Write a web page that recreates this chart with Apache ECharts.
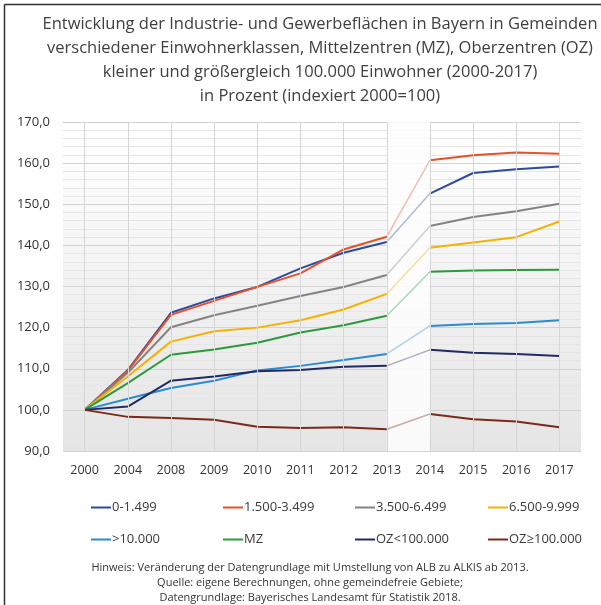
<!DOCTYPE html>
<html>
<head>
<meta charset="utf-8">
<script src="https://cdn.jsdelivr.net/npm/echarts@6/dist/echarts.min.js"></script>
<style>
html,body{margin:0;padding:0;background:#fff;}
#c{width:601px;height:605px;}
</style>
</head>
<body>
<div id="c"></div>
<script>
var years = ['2000','2004','2008','2009','2010','2011','2012','2013','2014','2015','2016','2017'];
var names = ['0-1.499','1.500-3.499','3.500-6.499','6.500-9.999','>10.000','MZ','OZ<100.000','OZ\u2265100.000'];
var colors = ['#2b4c9f','#e4512a','#838383','#f4b100','#2a8bd3','#2b9a3c','#202b62','#7b2a1a'];
var s0_1499   = [100, 109.7, 123.6, 127.1, 129.9, 134.4, 138.2, 140.8, 152.6, 157.6, 158.5, 159.2];
var s1500_3499 = [100, 109.5, 123.1, 126.5, 129.9, 133.2, 139.0, 142.1, 160.7, 161.9, 162.6, 162.3];
var s3500_6499 = [100, 109.0, 120.1, 123.0, 125.3, 127.7, 129.9, 132.8, 144.7, 146.9, 148.3, 150.1];
var s6500_9999 = [100, 108.1, 116.6, 119.1, 120.0, 121.8, 124.4, 128.2, 139.4, 140.7, 142.0, 145.8];
var s10000    = [100, 102.7, 105.3, 107.1, 109.6, 110.7, 112.1, 113.6, 120.4, 120.9, 121.1, 121.8];
var sMZ       = [100, 106.5, 113.4, 114.7, 116.3, 118.8, 120.6, 122.9, 133.6, 133.9, 134.0, 134.1];
var sOZsmall  = [100, 100.8, 107.1, 108.1, 109.4, 109.7, 110.5, 110.7, 114.6, 113.9, 113.6, 113.1];
var sOZlarge  = [100, 98.3, 98.0, 97.6, 95.9, 95.6, 95.8, 95.3, 99.0, 97.7, 97.2, 95.8];
var yTicks = [90, 100, 110, 120, 130, 140, 150, 160, 170];
var titleLines = [
  'Entwicklung der Industrie- und Gewerbeflächen in Bayern in Gemeinden',
  'verschiedener Einwohnerklassen, Mittelzentren (MZ), Oberzentren (OZ)',
  'kleiner und größergleich 100.000 Einwohner (2000-2017)',
  'in Prozent (indexiert 2000=100)'
];
var noteLines = [
  'Hinweis: Veränderung der Datengrundlage mit Umstellung von ALB zu ALKIS ab 2013.',
  'Quelle: eigene Berechnungen, ohne gemeindefreie Gebiete;',
  'Datengrundlage: Bayerisches Landesamt für Statistik 2018.'
];
var allData = [s0_1499, s1500_3499, s3500_6499, s6500_9999, s10000, sMZ, sOZsmall, sOZlarge];

var breakIdx = 7; // 2013
var series = [];
series.push({
  type: 'line', name: '_grid', z: 1, silent: true, symbol: 'none',
  data: years.map(function(){return '-';}),
  markLine: {
    silent: true, symbol: 'none', label: {show: false},
    lineStyle: {color: '#d6d6d6', width: 1, type: 'solid'},
    data: years.map(function(y){return {xAxis: y};})
  }
});
series.push({
  type: 'line', name: '_band', z: 1, silent: true, symbol: 'none',
  data: years.map(function(){return '-';}),
  markArea: {
    silent: true,
    itemStyle: {color: 'rgba(253,253,253,0.88)'},
    data: [[{xAxis: '2013'}, {xAxis: '2014'}]]
  }
});
var font = '"Open Sans", "Noto Sans", sans-serif';
for (var i = 0; i < names.length; i++) {
  var d = allData[i];
  var a = d.map(function(v, k){return k <= breakIdx ? v : '-';});
  var b = d.map(function(v, k){return k >= breakIdx + 1 ? v : '-';});
  var t = d.map(function(v, k){return (k === breakIdx || k === breakIdx + 1) ? v : '-';});
  var base = {type: 'line', symbol: 'none', showSymbol: false, silent: true, z: 3,
    itemStyle: {color: colors[i]}, emphasis: {disabled: true}};
  series.push(Object.assign({}, base, {name: names[i], data: a, lineStyle: {color: colors[i], width: 2}}));
  series.push(Object.assign({}, base, {name: names[i] + '_b', data: b, lineStyle: {color: colors[i], width: 2}}));
  series.push(Object.assign({}, base, {name: names[i] + '_t', data: t, z: 2, lineStyle: {color: colors[i], width: 1.5, opacity: 0.38}}));
}

var legendLeft = [86, 218, 350, 483];
var legendTop = [496, 528];
var legends = names.map(function(n, i){
  return {
    data: [n], left: legendLeft[i % 4], top: legendTop[Math.floor(i / 4)],
    icon: 'rect', itemWidth: 20, itemHeight: 2, itemGap: 0, selectedMode: false,
    textStyle: {fontFamily: font, fontSize: 13, color: '#3a3a3a', padding: [0,0,0,-4]}
  };
});

var chart = echarts.init(document.getElementById('c'), null, {renderer: 'canvas'});
chart.setOption({
  animation: false,
  backgroundColor: '#ffffff',
  grid: {
    left: 63, top: 122, width: 518, height: 329, show: true, borderWidth: 0,
    backgroundColor: {type: 'linear', x: 0, y: 0, x2: 0, y2: 1,
      colorStops: [{offset: 0, color: '#ffffff'}, {offset: 0.12, color: '#fdfdfd'}, {offset: 0.55, color: '#f0f0f0'}, {offset: 1, color: '#e5e5e5'}]}
  },
  legend: legends,
  xAxis: {
    type: 'category', data: years, boundaryGap: true,
    axisLine: {show: false}, axisTick: {show: false},
    axisLabel: {fontFamily: font, fontSize: 12.5, color: '#333', margin: 13},
    splitLine: {show: false}
  },
  yAxis: {
    type: 'value', min: yTicks[0], max: yTicks[yTicks.length - 1], interval: 10,
    axisLine: {show: false}, axisTick: {show: false},
    axisLabel: {fontFamily: font, fontSize: 13, color: '#333', margin: 13,
      formatter: function(v){return v.toFixed(1).replace('.', ',');}},
    splitLine: {show: true, lineStyle: {color: '#d2d2d2', width: 1}},
    minorTick: {show: false, splitNumber: 5},
    minorSplitLine: {show: true, lineStyle: {color: '#e6e6e6', width: 1}}
  },
  graphic: [
    {type: 'text', x: 320, y: 12, style: {
      text: titleLines.join('\n'), font: '16.5px ' + font, fill: '#404040',
      textAlign: 'center', lineHeight: 24}},
    {type: 'text', x: 310, y: 560, style: {
      text: noteLines.join('\n'), font: '11px ' + font, fill: '#333',
      textAlign: 'center', lineHeight: 15}},
    {type: 'line', shape: {x1: 4.5, y1: 4.5, x2: 601, y2: 4.5}, style: {stroke: '#333', lineWidth: 1.5}},
    {type: 'line', shape: {x1: 4.5, y1: 4.5, x2: 4.5, y2: 605}, style: {stroke: '#333', lineWidth: 1.5}}
  ],
  series: series
});
</script>
</body>
</html>
